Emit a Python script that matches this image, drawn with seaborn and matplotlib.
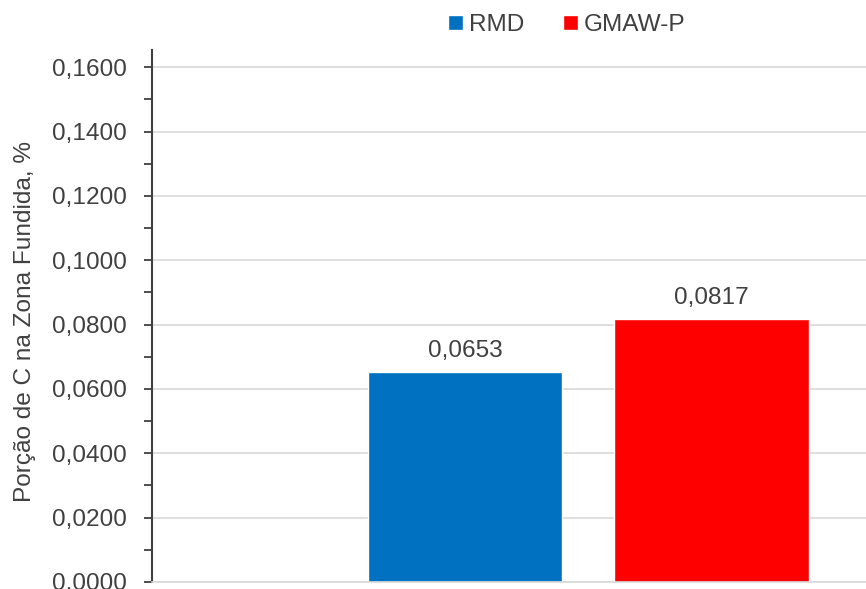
import numpy as np
import pandas as pd
import matplotlib
matplotlib.use("Agg")
import matplotlib.pyplot as plt
from matplotlib.ticker import FuncFormatter, MultipleLocator
import seaborn as sns

# data
processes = ["RMD", "GMAW-P"]
carbon = [0.0653, 0.0817]
colors = ["#0070C0", "#FF0000"]

df = pd.DataFrame({"processo": processes, "carbono": carbon})

sns.set_style("white")
plt.rcParams["font.family"] = ["Liberation Sans", "DejaVu Sans"]
txt = "#404040"
fs = 17.6

fig = plt.figure(figsize=(8.66, 5.89), dpi=100)
ax = fig.add_axes([0.1755, 0.0119, 0.8245, 0.903])

sns.barplot(data=df, x="processo", y="carbono", hue="processo",
            palette=colors, width=0.79, saturation=1, ax=ax, legend=True)

# value labels
for c in ax.containers:
    ax.bar_label(c, labels=[f"{v:.4f}".replace(".", ",") for v in c.datavalues],
                 padding=7, fontsize=fs, color=txt)

ax.set_xlim(-1.27, 1.627)
ax.set_ylim(0, 0.1653)
ax.yaxis.set_major_locator(MultipleLocator(0.02))
ax.yaxis.set_minor_locator(MultipleLocator(0.01))
ax.yaxis.set_major_formatter(FuncFormatter(lambda v, p: f"{v:.4f}".replace(".", ",")))
ax.grid(axis="y", which="major", color="#D9D9D9", linewidth=1.2)
ax.set_axisbelow(True)

ax.tick_params(axis="y", which="both", direction="out", length=6, width=1.3,
               color=txt, labelsize=fs, labelcolor=txt, left=True, pad=12)
ax.tick_params(axis="x", bottom=False, labelbottom=False)
ax.set_xlabel("")
ax.set_ylabel("Porção de C na Zona Fundida, %", fontsize=fs, color=txt)
ax.yaxis.set_label_coords(-0.162, 0.49)

for s in ["top", "right"]:
    ax.spines[s].set_visible(False)
ax.spines["left"].set_color(txt)
ax.spines["left"].set_linewidth(1.5)
ax.spines["bottom"].set_color("#D9D9D9")
ax.spines["bottom"].set_linewidth(1.2)

leg = ax.legend(loc="center", bbox_to_anchor=(0.581, 1.047), ncol=2, frameon=False,
                fontsize=fs, handlelength=0.6, handleheight=0.6,
                handletextpad=0.25, columnspacing=1.6)
for t in leg.get_texts():
    t.set_color(txt)

fig.savefig("out.png", dpi=100)
